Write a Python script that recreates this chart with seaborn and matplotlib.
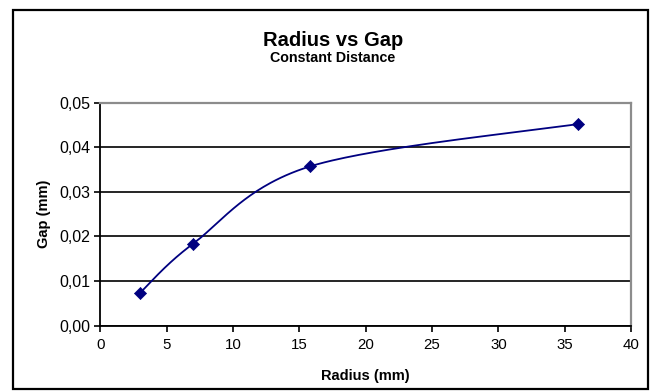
import numpy as np
import pandas as pd
import matplotlib
matplotlib.use("Agg")
import matplotlib.pyplot as plt
from matplotlib.patches import Rectangle
from matplotlib.ticker import FuncFormatter
import seaborn as sns

# Measured points
radius_mm = [3.0, 7.0, 15.8, 36.0]
gap_mm = [0.0074, 0.0184, 0.0357, 0.0452]

x_ticks = [0, 5, 10, 15, 20, 25, 30, 35, 40]
y_ticks = [0.00, 0.01, 0.02, 0.03, 0.04, 0.05]

title = "Radius vs Gap"
subtitle = "Constant Distance"
x_label = "Radius (mm)"
y_label = "Gap (mm)"

NAVY = "#000080"


def smooth_curve(xs, ys, n=60):
    """Spreadsheet-style smoothed line: cubic Bezier segments with
    Catmull-Rom control points (tension 1/6)."""
    p = np.column_stack([xs, ys]).astype(float)
    p = np.vstack([p[0], p, p[-1]])
    t = np.linspace(0, 1, n)[:, None]
    out = []
    for i in range(1, len(p) - 2):
        p0, p1, p2, p3 = p[i - 1], p[i], p[i + 1], p[i + 2]
        b1 = p1 + (p2 - p0) / 6.0
        b2 = p2 - (p3 - p1) / 6.0
        seg = ((1 - t) ** 3) * p1 + 3 * ((1 - t) ** 2) * t * b1 \
            + 3 * (1 - t) * (t ** 2) * b2 + (t ** 3) * p2
        out.append(seg if i == 1 else seg[1:])
    c = np.vstack(out)
    return c[:, 0], c[:, 1]


sns.set_theme(style="white")
plt.rcParams["font.family"] = ["Liberation Sans", "DejaVu Sans"]
plt.rcParams["text.color"] = "black"
plt.rcParams["axes.labelcolor"] = "black"
plt.rcParams["xtick.color"] = "black"
plt.rcParams["ytick.color"] = "black"

fig = plt.figure(figsize=(6.51, 3.92), dpi=100)
fig.patch.set_facecolor("white")

# chart frame
fig.patches.append(Rectangle((12.5 / 651, 3 / 392), (648 - 12.5) / 651, (382 - 3) / 392,
                             transform=fig.transFigure, fill=False,
                             edgecolor="black", linewidth=1.6, zorder=0))

ax = fig.add_axes([100.4 / 651, 66.3 / 392, 530.6 / 651, 223.1 / 392])
ax.set_facecolor("white")

df_pts = pd.DataFrame({"radius": radius_mm, "gap": gap_mm})
sx, sy = smooth_curve(radius_mm, gap_mm)
df_line = pd.DataFrame({"radius": sx, "gap": sy})

sns.lineplot(data=df_line, x="radius", y="gap", sort=False, color=NAVY,
             linewidth=1.3, ax=ax, zorder=3)
sns.scatterplot(data=df_pts, x="radius", y="gap", marker="D", s=38, color=NAVY,
                edgecolor=NAVY, linewidth=0.5, ax=ax, zorder=4)

ax.set_xlim(0, 40)
ax.set_ylim(0, 0.05)
ax.set_xticks(x_ticks)
ax.set_yticks(y_ticks)
ax.yaxis.set_major_formatter(FuncFormatter(lambda v, _: f"{v:.2f}".replace(".", ",")))
ax.xaxis.set_major_formatter(FuncFormatter(lambda v, _: f"{v:g}"))

ax.grid(axis="y", color="black", linewidth=1.2)
ax.grid(axis="x", visible=False)
ax.set_axisbelow(True)

for side in ("left", "bottom"):
    ax.spines[side].set_color("black")
    ax.spines[side].set_linewidth(1.3)
for side in ("top", "right"):
    ax.spines[side].set_color("#8c8c8c")
    ax.spines[side].set_linewidth(1.6)

ax.tick_params(axis="both", which="major", direction="out", length=4, width=1.2,
               color="black", labelcolor="black", bottom=True, left=True)
ax.tick_params(axis="y", labelsize=11.5, pad=3)
ax.tick_params(axis="x", labelsize=10.8, pad=5)

ax.set_xlabel(x_label, fontsize=10.5, fontweight="bold", labelpad=12)
ax.set_ylabel(y_label, fontsize=10.5, fontweight="bold", labelpad=6)

fig.text(333 / 651, 1 - 40 / 392, title, ha="center", va="center",
         fontsize=14.5, fontweight="bold")
fig.text(333 / 651, 1 - 58 / 392, subtitle, ha="center", va="center",
         fontsize=10.3, fontweight="bold")

fig.savefig("out.png", dpi=100, facecolor="white")
